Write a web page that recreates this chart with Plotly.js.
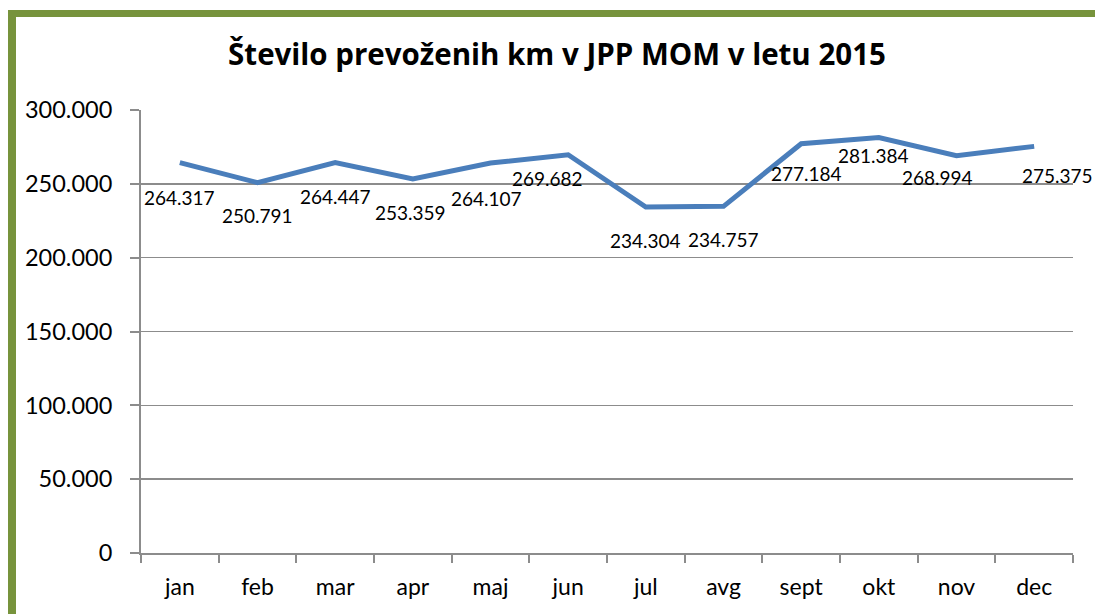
<!DOCTYPE html>
<html>
<head>
<meta charset="utf-8">
<script src="https://cdn.plot.ly/plotly-3.0.1.min.js"></script>
<style>
html,body{margin:0;padding:0;background:#fff;}
#chart{width:1095px;height:614px;}
</style>
</head>
<body>
<div id="chart"></div>
<script>
const months = ["jan","feb","mar","apr","maj","jun","jul","avg","sept","okt","nov","dec"];
const km = [264317, 250791, 264447, 253359, 264107, 269682, 234304, 234757, 277184, 281384, 268994, 275375];
const labelText = ["264.317","250.791","264.447","253.359","264.107","269.682","234.304","234.757","277.184","281.384","268.994","275.375"];
const titleText = "Število prevoženih km v JPP MOM v letu 2015";

// label offsets (px) relative to the point, layout only
const labelDx = [0, 0, 0, -2, -4, -21, 0, 0, 5, -5, -19, 23];
const labelDy = [-35, -33, -34, -34, -35, -24, -33, -33, -30, -18, -22, -29];

const FONT = "Lato, 'Open Sans', sans-serif";
const L = 141, R = 22, T = 110, B = 61, W = 1095, H = 614;
const pw = W - L - R, ph = H - T - B;
const px = v => (v - L) / pw;
const py = v => (H - B - v) / ph;

const annotations = months.map((m, i) => ({
  x: m, y: km[i], xref: 'x', yref: 'y',
  text: labelText[i], showarrow: false,
  xshift: labelDx[i], yshift: labelDy[i],
  font: {family: FONT, size: 19, color: '#000'}
}));

const green = '#77933C';
const shapes = [
  {type:'line', xref:'paper', yref:'paper', x0:px(12), x1:px(12), y0:py(10), y1:py(630), line:{color:green, width:8}},
  {type:'line', xref:'paper', yref:'paper', x0:px(8), x1:px(1110), y0:py(13.5), y1:py(13.5), line:{color:green, width:7}}
];

Plotly.newPlot('chart', [{
  x: months, y: km, type: 'scatter', mode: 'lines',
  line: {color: '#4A7EBB', width: 5},
  hoverinfo: 'skip'
}], {
  width: W, height: H,
  margin: {l: L, r: R, t: T, b: B, pad: 0},
  paper_bgcolor: '#fff', plot_bgcolor: '#fff',
  separators: ',.',
  showlegend: false,
  title: {text: '<b>' + titleText + '</b>', x: 557 / W, xanchor: 'center', xref: 'container',
          y: 1 - 55 / H, yanchor: 'middle', yref: 'container',
          font: {family: "'Open Sans', sans-serif", size: 29.5, color: '#000'}},
  xaxis: {
    type: 'category', range: [-0.5, 11.5], tickson: 'boundaries',
    ticks: 'outside', ticklen: 8, tickcolor: '#8c8c8c', tickwidth: 2,
    showline: true, linecolor: '#8c8c8c', linewidth: 2,
    showgrid: false, zeroline: false,
    tickfont: {family: FONT, size: 23, color: '#000'},
    ticklabelstandoff: 12,
    fixedrange: true
  },
  yaxis: {
    range: [0, 300000], dtick: 50000, tick0: 0, tickformat: ',d',
    ticks: 'outside', ticklen: 9, tickcolor: '#8c8c8c', tickwidth: 2,
    showline: true, linecolor: '#8c8c8c', linewidth: 2,
    showgrid: true, gridcolor: '#8c8c8c', gridwidth: 1.5,
    zeroline: false,
    tickfont: {family: FONT, size: 23.5, color: '#000'},
    ticklabelstandoff: 13,
    fixedrange: true
  },
  annotations: annotations,
  shapes: shapes
}, {displayModeBar: false, staticPlot: true});
</script>
</body>
</html>
